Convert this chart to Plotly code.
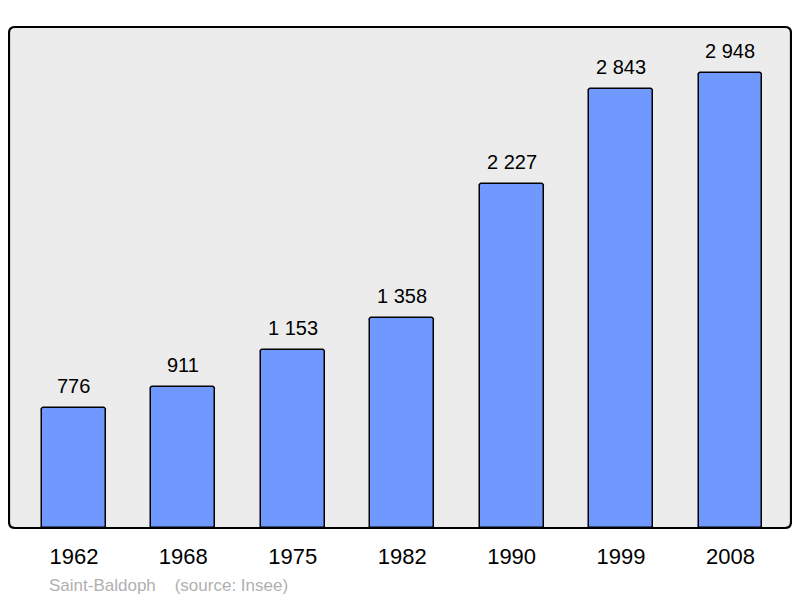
import plotly.graph_objects as go

years = ["1962", "1968", "1975", "1982", "1990", "1999", "2008"]
population = [776, 911, 1153, 1358, 2227, 2843, 2948]
source_text = "Saint-Baldoph    (source: Insee)"

# page body has an 8px margin
OFF = 8
W, H = 800 - 2 * OFF, 598 - OFF
L, R, T, B = 9 - OFF, 791 - OFF, 27 - OFF, 528 - OFF

labels = [f"{v:,}".replace(",", " ") for v in population]

fig = go.Figure()
fig.add_trace(go.Bar(
    x=list(range(len(years))), y=population,
    width=0.584,
    marker=dict(color="#7099ff", line=dict(color="#000000", width=1.5), cornerradius=3),
    hoverinfo="skip",
))

for i, (v, lab) in enumerate(zip(population, labels)):
    fig.add_annotation(x=i, y=v, text=lab, showarrow=False, xref="x", yref="y",
                       yanchor="bottom", yshift=9,
                       font=dict(family="Liberation Sans, Arial", size=20, color="#000"))

def px(x):
    return (x - L) / (R - L)
def py(y):
    return (B - y) / (B - T)

fig.add_annotation(x=px(47 - OFF), y=py(585 - OFF), xref="paper", yref="paper",
                   xanchor="left", yanchor="middle", showarrow=False,
                   text=source_text,
                   font=dict(family="Liberation Sans, Arial", size=17, color="#b0b0b0"))

r = 6
path_paper = (f"M {px(L+r)},{py(T)} L {px(R-r)},{py(T)} Q {px(R)},{py(T)} {px(R)},{py(T+r)} "
              f"L {px(R)},{py(B-r)} Q {px(R)},{py(B)} {px(R-r)},{py(B)} "
              f"L {px(L+r)},{py(B)} Q {px(L)},{py(B)} {px(L)},{py(B-r)} "
              f"L {px(L)},{py(T+r)} Q {px(L)},{py(T)} {px(L+r)},{py(T)} Z")
fig.add_shape(type="path", path=path_paper, xref="paper", yref="paper",
              line=dict(color="#000000", width=2.2), layer="above")

fig.update_layout(
    width=W, height=H,
    margin=dict(l=L, r=W - R, t=T, b=H - B, pad=0),
    paper_bgcolor="#ffffff", plot_bgcolor="#ececec",
    showlegend=False,
    xaxis=dict(tickmode="array", tickvals=list(range(len(years))), ticktext=years,
               range=[-0.593, 6.553], showgrid=False, zeroline=False,
               ticks="outside", ticklen=9, tickcolor="rgba(0,0,0,0)",
               tickfont=dict(family="Liberation Sans, Arial", size=22, color="#000")),
    yaxis=dict(range=[0, 3246], showgrid=False, zeroline=False, showticklabels=False,
               fixedrange=True),
    bargap=0,
)

fig.write_html("out.html")
